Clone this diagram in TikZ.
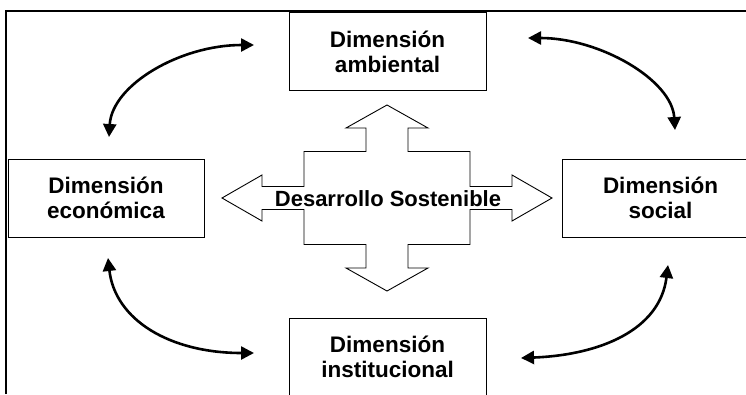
\documentclass[tikz,border=0pt]{standalone}
\usepackage{fontspec}
\setmainfont{Liberation Sans}
\usetikzlibrary{arrows.meta}
\begin{document}
\begin{tikzpicture}[x=1pt,y=-1pt,
  dimbox/.style={draw=black,line width=0.9pt,minimum width=197pt,minimum height=78pt,inner sep=0pt,align=center,font=\bfseries\fontsize{22.5}{25}\selectfont},
  curvearrow/.style={line width=2.6pt,{Triangle[length=13pt,width=13pt]}-{Triangle[length=13pt,width=13pt]}},
  frameline/.style={line width=2pt},
  crossshape/.style={draw=black,line width=0.9pt,fill=white,line join=miter}]
\useasboundingbox (0,0) rectangle (746,394);
\fill[white] (0,0) rectangle (746,394);
% frame
\draw[frameline] (6,394) -- (6,11) -- (750,11);
% boxes
\node[dimbox] (amb) at (387.5,51.5) {Dimensión\\ambiental};
\node[dimbox,minimum width=196pt] (eco) at (106,198) {Dimensión\\económica};
\node[dimbox] (soc) at (660.5,198) {Dimensión\\social};
\node[dimbox] (ins) at (387.5,357) {Dimensión\\institucional};
% central cross
\coordinate (c) at (387,198);
\draw[crossshape] ([shift={(0,-93)}]c)
  -- ++(41,23) -- ++(-20,0) -- ++(0,23.5) -- ++(62,0) -- ++(0,35)
  -- ++(42,0) -- ++(0,-11.5) -- ++(40,23) -- ++(-40,23) -- ++(0,-11.5)
  -- ++(-42,0) -- ++(0,35) -- ++(-62,0) -- ++(0,23.5) -- ++(20,0)
  -- ++(-41,23) -- ++(-41,-23) -- ++(20,0) -- ++(0,-23.5) -- ++(-62,0)
  -- ++(0,-35) -- ++(-42,0) -- ++(0,11.5) -- ++(-40,-23) -- ++(40,-23)
  -- ++(0,11.5) -- ++(42,0) -- ++(0,-35) -- ++(62,0) -- ++(0,-23.5)
  -- ++(-20,0) -- cycle;
\node[font=\bfseries\fontsize{22}{25}\selectfont,inner sep=0pt] (ds) at (388,199) {Desarrollo Sostenible};
% curved arrows
\coordinate (tl1) at (109,137);
\coordinate (tl2) at (254,45);
\coordinate (tr1) at (528,38);
\coordinate (tr2) at (675,130);
\coordinate (bl1) at (108,258);
\coordinate (bl2) at (254,353);
\coordinate (br1) at (668,265);
\coordinate (br2) at (521,358);
\draw[curvearrow] (tl1) .. controls (112,85) and (180,45) .. (tl2);
\draw[curvearrow] (tr1) .. controls (600,38) and (672,80) .. (tr2);
\draw[curvearrow] (bl1) .. controls (115,320) and (170,353) .. (bl2);
\draw[curvearrow] (br1) .. controls (660,330) and (600,355) .. (br2);
\end{tikzpicture}
\end{document}
